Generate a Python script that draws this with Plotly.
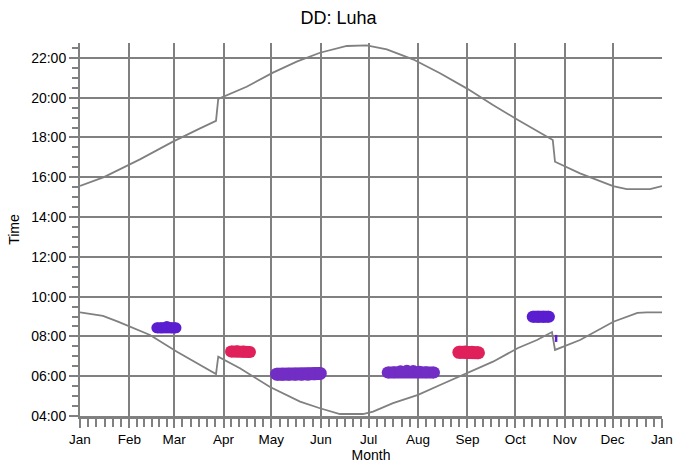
import plotly.graph_objects as go

# ---------------- data ----------------
month_days = [0, 31, 59, 90, 120, 151, 181, 212, 243, 273, 304, 334, 365]
month_labels = ["Jan", "Feb", "Mar", "Apr", "May", "Jun", "Jul", "Aug",
                "Sep", "Oct", "Nov", "Dec", "Jan"]
hour_ticks = [4, 6, 8, 10, 12, 14, 16, 18, 20, 22]
hour_labels = ["04:00", "06:00", "08:00", "10:00", "12:00", "14:00",
               "16:00", "18:00", "20:00", "22:00"]

sunrise_day = [0, 14.4, 23.8, 33.2, 43.9, 60.8, 75.3, 85.3, 86.7, 100.3,
               119.2, 138, 150.5, 163, 177.5, 183.8, 196.3, 212, 225.8,
               242.5, 259, 274.7, 286.6, 296, 297.9, 313.6, 334.5, 349.6,
               355.4, 365]
sunrise_hour = [9.21, 9.03, 8.74, 8.42, 8.07, 7.23, 6.56, 6.11, 6.98, 6.40,
                5.46, 4.72, 4.39, 4.10, 4.10, 4.22, 4.65, 5.06, 5.56,
                6.15, 6.73, 7.42, 7.82, 8.22, 7.32, 7.82, 8.74, 9.18,
                9.21, 9.21]

sunset_day = [0, 15, 37.6, 58.3, 75.3, 85.3, 86.7, 100.3, 104.5, 121,
              135.9, 150.5, 167.3, 179.8, 192.4, 208.8, 225.8, 242.5, 259,
              274.7, 292.7, 296.5, 297.9, 313.6, 334.3, 342.9, 357.5, 365]
sunset_hour = [15.56, 16.01, 16.90, 17.79, 18.46, 18.84, 19.94, 20.39, 20.55,
               21.26, 21.81, 22.26, 22.60, 22.63, 22.43, 21.93, 21.23, 20.47,
               19.63, 18.88, 18.04, 17.87, 16.78, 16.20, 15.56, 15.40, 15.40,
               15.56]

# observation clusters
obs_mar_day = [48.2, 51, 54.5, 57.5, 60.2]
obs_mar_hour = [8.43, 8.43, 8.50, 8.43, 8.43]
obs_apr_day = [94.7, 98.5, 102.5, 106.6]
obs_apr_hour = [7.24, 7.26, 7.24, 7.22]
obs_may_day = [123.3, 127, 131, 135, 139, 143, 147, 150.7]
obs_may_hour = [6.10, 6.10, 6.10, 6.10, 6.10, 6.10, 6.12, 6.14]
obs_jul_day = [193, 197, 201, 205, 209, 213, 217, 222]
obs_jul_hour = [6.19, 6.20, 6.25, 6.28, 6.26, 6.22, 6.20, 6.19]
obs_sep_day = [237.6, 241.7, 245.8, 249.9]
obs_sep_hour = [7.20, 7.22, 7.20, 7.18]
obs_oct_day = [283.9, 287.3, 290.7, 294.1]
obs_oct_hour = [8.99, 8.99, 8.99, 8.99]
obs_oct2_day = [298.6]
obs_oct2_hour = [7.9]

# ---------------- styles ----------------
GRAY = "#808080"
PURPLE = "#5a1ed0"
VIOLET = "#712dc4"
RED = "#e0205a"
FONT = "Liberation Sans, Arial, sans-serif"

fig = go.Figure()

for xd, yd in [(sunrise_day, sunrise_hour), (sunset_day, sunset_hour)]:
    fig.add_trace(go.Scatter(x=xd, y=yd, mode="lines",
                             line=dict(color=GRAY, width=1.8),
                             hoverinfo="skip", showlegend=False))

blobs = [
    (obs_mar_day, obs_mar_hour, PURPLE, 11),
    (obs_apr_day, obs_apr_hour, RED, 12),
    (obs_may_day, obs_may_hour, VIOLET, 13),
    (obs_jul_day, obs_jul_hour, VIOLET, 12),
    (obs_sep_day, obs_sep_hour, RED, 13),
    (obs_oct_day, obs_oct_hour, PURPLE, 12),
]
for xd, yd, col, sz in blobs:
    fig.add_trace(go.Scatter(x=xd, y=yd, mode="lines+markers",
                             line=dict(color=col, width=sz),
                             marker=dict(color=col, size=sz, symbol="circle",
                                         line=dict(width=0)),
                             hoverinfo="skip", showlegend=False))
fig.add_trace(go.Scatter(x=obs_oct2_day, y=obs_oct2_hour, mode="markers",
                         marker=dict(symbol="line-ns", size=5,
                                     line=dict(color=PURPLE, width=2.5)),
                         hoverinfo="skip", showlegend=False))

x_minor = []
for a, b in zip(month_days[:-1], month_days[1:]):
    for k in range(1, 6):
        x_minor.append(a + k * (b - a) / 6)
y_minor = [h / 2 for h in range(9, 46) if h % 4 != 0]

fig.update_layout(
    width=677, height=463,
    margin=dict(l=80, r=15, t=43, b=47),
    paper_bgcolor="white", plot_bgcolor="white",
    font=dict(family=FONT, size=14, color="black"),
    title=dict(text="DD: Luha", x=0.5, xref="container", xanchor="center",
               y=1 - 18 / 463, yref="container", yanchor="middle",
               font=dict(family=FONT, size=18, color="black")),
    xaxis=dict(range=[0, 365], tickmode="array", tickvals=month_days,
               ticktext=month_labels, showgrid=True, gridcolor=GRAY,
               gridwidth=2, showline=True, linecolor=GRAY, linewidth=3,
               ticks="outside", ticklen=9, tickwidth=2, tickcolor=GRAY,
               zeroline=False, automargin=False,
               tickfont=dict(family=FONT, size=13.5),
               minor=dict(tickmode="array", tickvals=x_minor, ticks="outside",
                          ticklen=8, tickwidth=2, tickcolor=GRAY,
                          showgrid=False),
               title=dict(text="Month", standoff=5,
                          font=dict(family=FONT, size=14))),
    yaxis=dict(range=[4, 22.75], tickmode="array", tickvals=hour_ticks,
               ticktext=hour_labels, showgrid=True, gridcolor=GRAY,
               gridwidth=2, showline=True, linecolor=GRAY, linewidth=2,
               ticks="outside", ticklen=9, tickwidth=2, tickcolor=GRAY,
               zeroline=False, automargin=False,
               minor=dict(tickmode="array", tickvals=y_minor, ticks="outside",
                          ticklen=6, tickwidth=2, tickcolor=GRAY,
                          showgrid=False),
               title=dict(text="Time", standoff=8,
                          font=dict(family=FONT, size=14))),
)

fig.write_html("out.html",
               config={"displayModeBar": False},
               post_script="document.body.style.margin='0';"
                           "document.body.style.padding='0';")
